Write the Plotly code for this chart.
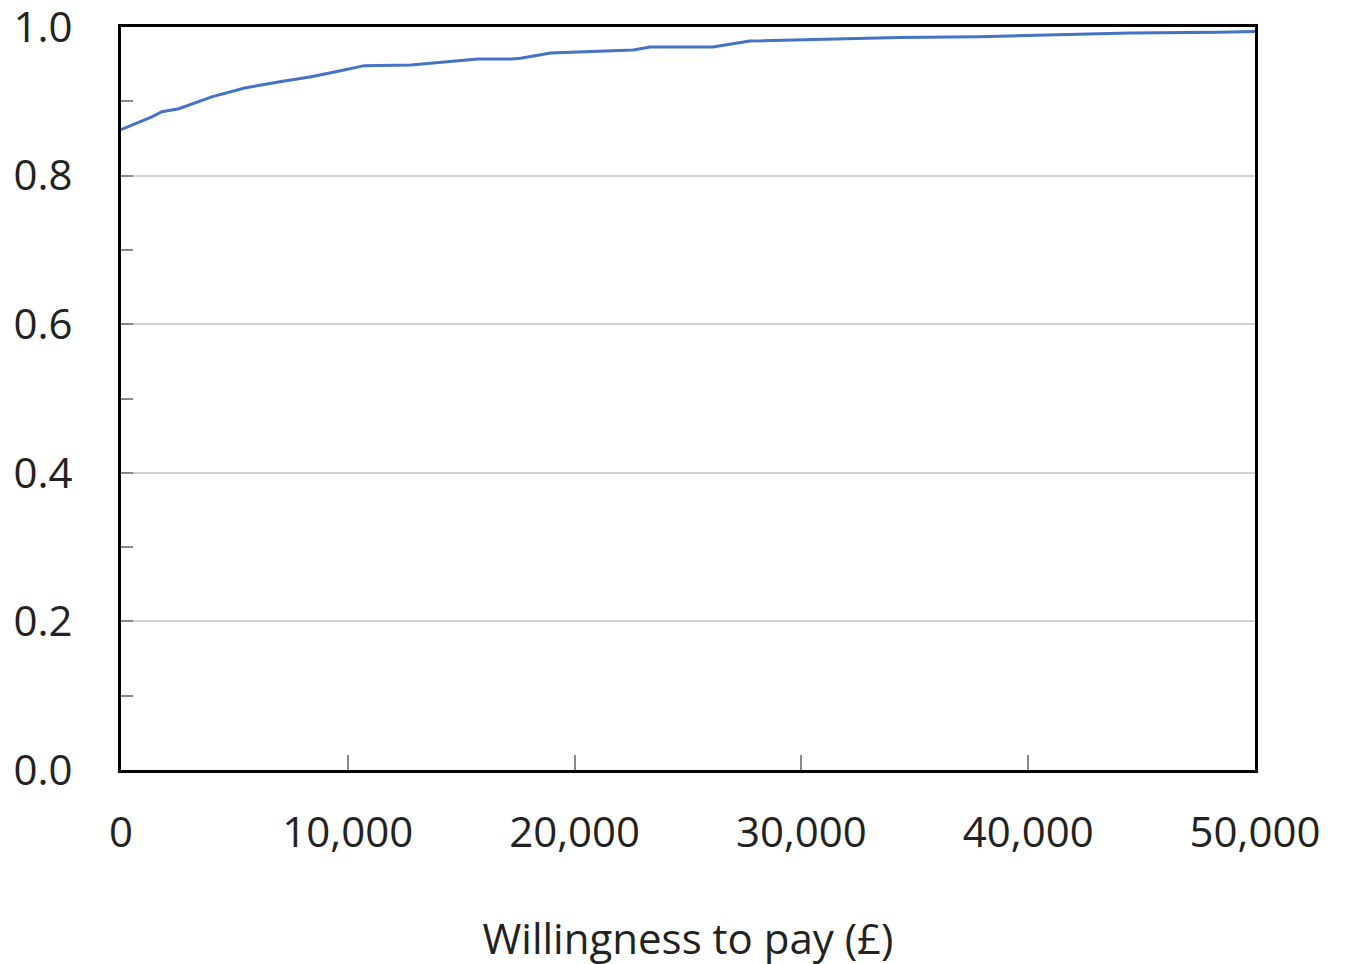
import plotly.graph_objects as go

wtp = [0, 1360, 1800, 2550, 4000, 5450, 6940, 8390, 9840, 10720, 12790, 14240, 15730,
       17180, 17620, 18940, 22580, 23330, 26100, 27720, 29920, 32860, 34310, 37830,
       41480, 44500, 48370, 50000]
prob = [0.862, 0.879, 0.886, 0.890, 0.906, 0.918, 0.926, 0.933, 0.942, 0.948, 0.949, 0.953, 0.957,
        0.957, 0.958, 0.965, 0.969, 0.973, 0.973, 0.981, 0.983, 0.985, 0.986, 0.987,
        0.990, 0.992, 0.993, 0.994]

x_ticks = [0, 10000, 20000, 30000, 40000, 50000]
x_ticklabels = ["0", "10,000", "20,000", "30,000", "40,000", "50,000"]
y_ticks = [0.0, 0.2, 0.4, 0.6, 0.8, 1.0]
y_ticklabels = ["0.0", "0.2", "0.4", "0.6", "0.8", "1.0"]

font_family = "Open Sans, DejaVu Sans, sans-serif"

fig = go.Figure()
fig.add_trace(go.Scatter(x=wtp, y=prob, mode="lines",
                         line=dict(color="#4472C4", width=3), showlegend=False))

fig.update_layout(
    width=1345, height=964,
    margin=dict(l=113, r=98, t=19, b=202),
    paper_bgcolor="white", plot_bgcolor="white",
    font=dict(family=font_family, size=42, color="#222222"),
    xaxis=dict(
        range=[0, 50000], tickvals=x_ticks, ticktext=x_ticklabels,
        ticks="inside", ticklen=15, tickcolor="#888888", tickwidth=1.5,
        showgrid=False, zeroline=False, automargin=False,
        showline=True, linecolor="black", linewidth=3, mirror=True,
        ticklabelstandoff=24, ticklabeloverflow="allow",
        title=dict(text="Willingness to pay (£)", standoff=67,
                   font=dict(family=font_family, size=42, color="#222222")),
    ),
    yaxis=dict(
        range=[0, 1.0], tickvals=y_ticks, ticktext=y_ticklabels,
        ticks="inside", ticklen=12, tickcolor="#888888", tickwidth=1.5,
        minor=dict(ticks="inside", dtick=0.1, ticklen=12, tickcolor="#888888", tickwidth=1.5, showgrid=False),
        showgrid=True, gridcolor="#d0d0d0", gridwidth=1.5,
        zeroline=False, automargin=False,
        showline=True, linecolor="black", linewidth=3, mirror=True,
        ticklabelstandoff=37, ticklabeloverflow="allow",
    ),
)

fig.write_html("out.html")
